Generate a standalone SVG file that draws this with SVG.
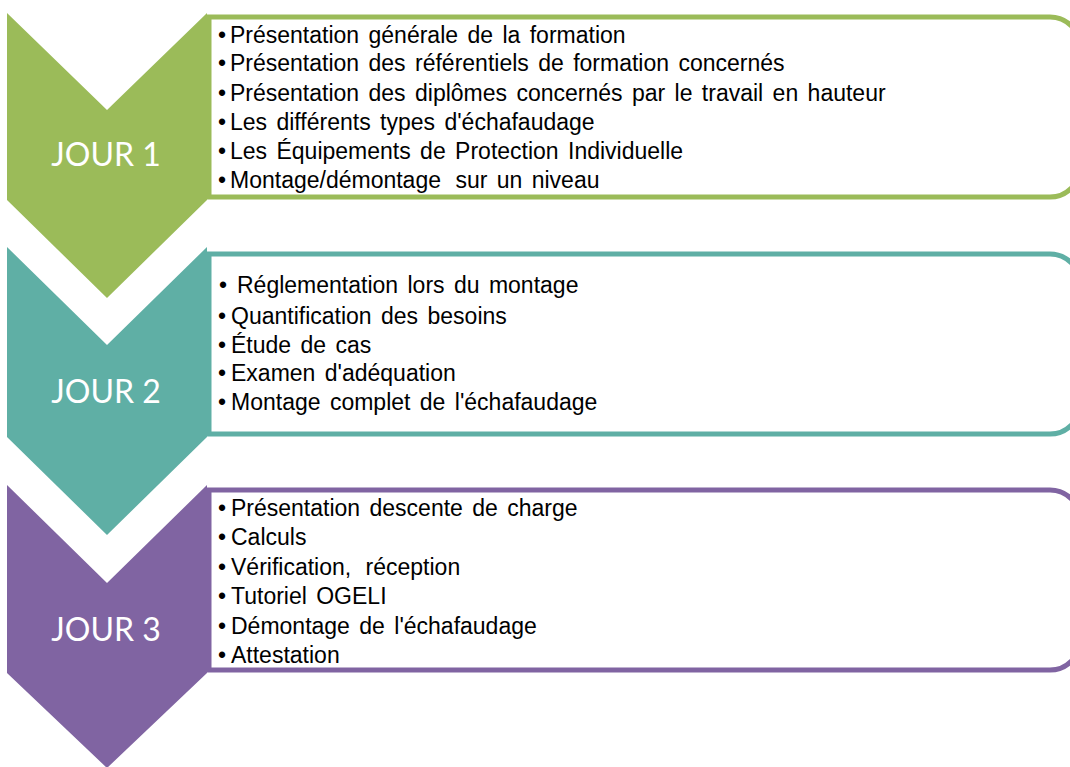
<svg xmlns="http://www.w3.org/2000/svg" width="1070" height="767" viewBox="0 0 1070 767">
<style>
.bx{fill:#ffffff;stroke-width:5}
.t{font-family:"Liberation Sans",Arial,sans-serif;font-size:23px;fill:#000000;word-spacing:3px}
.lbl{font-family:Lato,"Open Sans",sans-serif;font-size:32px;fill:#ffffff;text-anchor:middle}
</style>
<rect width="1070" height="767" fill="#ffffff"/>
<g id="connectors"/>
<g id="day1">
<path class="bx" stroke="#9BBB59" d="M209,17 H1050 A30,30 0 0 1 1080,47 V167 A30,30 0 0 1 1050,197 H209 Z"/>
<polygon fill="#9BBB59" points="7,13 107,110 207,13 207,200 107,298 7,200"/>
<text class="lbl" x="106" y="166">JOUR 1</text>
<g class="t">
<text x="218" y="43">•</text><text x="230" y="43">Présentation générale de la formation</text>
<text x="218" y="71">•</text><text x="230" y="71">Présentation des référentiels de formation concernés</text>
<text x="218" y="101">•</text><text x="230" y="101">Présentation des diplômes concernés par le travail en hauteur</text>
<text x="218" y="130">•</text><text x="230" y="130">Les différents types d'échafaudage</text>
<text x="218" y="159">•</text><text x="230" y="159">Les Équipements de Protection Individuelle</text>
<text x="218" y="188">•</text><text x="230" y="188">Montage/démontage <tspan dx="5">sur un niveau</tspan></text>
</g>
</g>
<g id="day2">
<path class="bx" stroke="#5FAFA5" d="M209,254 H1050 A30,30 0 0 1 1080,284 V404 A30,30 0 0 1 1050,434 H209 Z"/>
<polygon fill="#5FAFA5" points="7,247 107,345 207,247 207,437 107,535 7,437"/>
<text class="lbl" x="106" y="403">JOUR 2</text>
<g class="t">
<text x="219" y="293">•</text><text x="237" y="293">Réglementation lors du montage</text>
<text x="218" y="324">•</text><text x="231" y="324">Quantification des besoins</text>
<text x="218" y="353">•</text><text x="231" y="353">Étude de cas</text>
<text x="218" y="381">•</text><text x="231" y="381">Examen d'adéquation</text>
<text x="218" y="410">•</text><text x="231" y="410">Montage complet de l'échafaudage</text>
</g>
</g>
<g id="day3">
<path class="bx" stroke="#8064A2" d="M209,490 H1050 A30,30 0 0 1 1080,520 V640 A30,30 0 0 1 1050,670 H209 Z"/>
<polygon fill="#8064A2" points="7,485 107,583 207,485 207,673 107,768 7,673"/>
<text class="lbl" x="106" y="641">JOUR 3</text>
<g class="t">
<text x="218" y="516">•</text><text x="231" y="516">Présentation descente de charge</text>
<text x="218" y="545">•</text><text x="231" y="545">Calculs</text>
<text x="218" y="575">•</text><text x="231" y="575">Vérification, <tspan dx="5">réception</tspan></text>
<text x="218" y="604">•</text><text x="231" y="604">Tutoriel OGELI</text>
<text x="218" y="634">•</text><text x="231" y="634">Démontage de l'échafaudage</text>
<text x="218" y="663">•</text><text x="231" y="663">Attestation</text>
</g>
</g>
</svg>
